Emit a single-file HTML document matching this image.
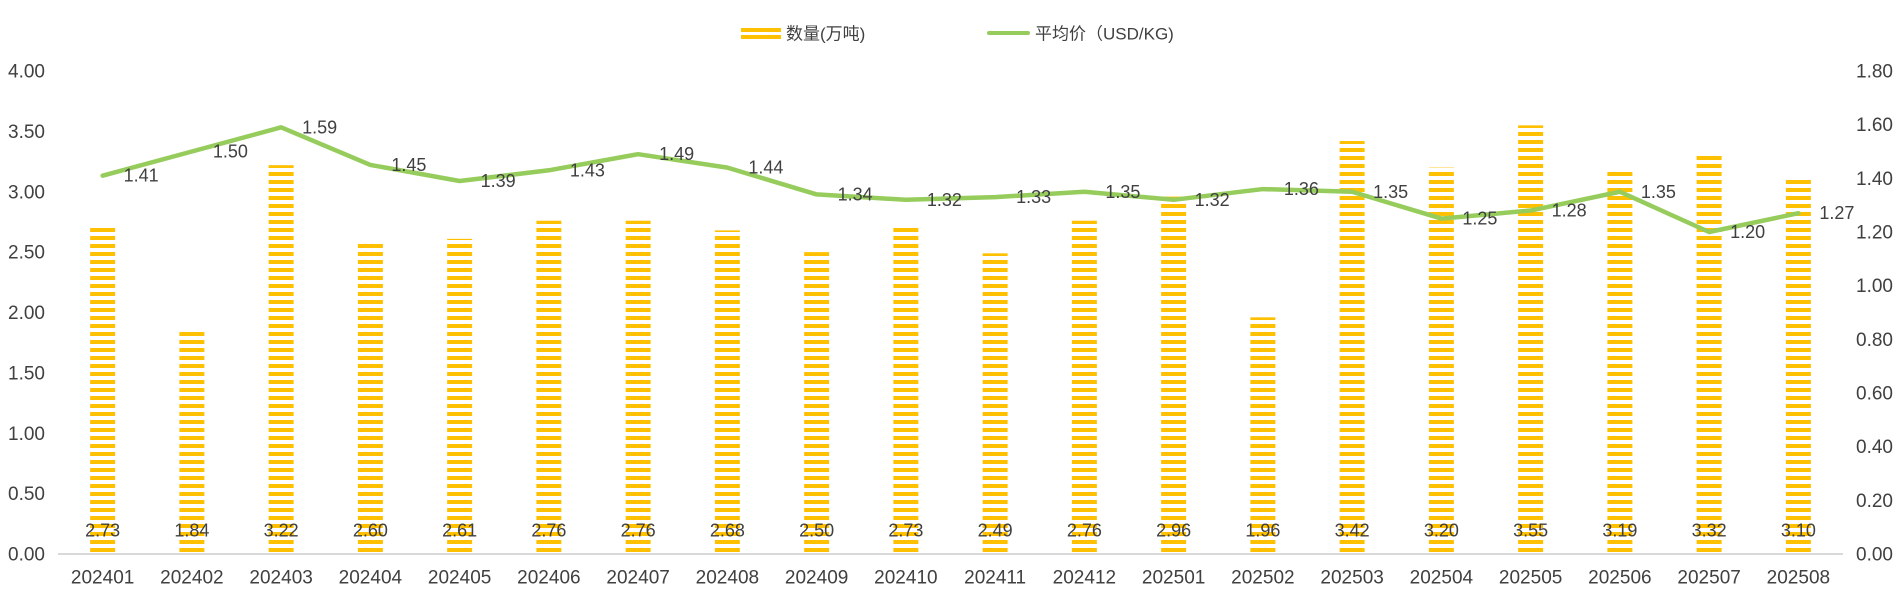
<!DOCTYPE html>
<html>
<head>
<meta charset="utf-8">
<style>
html,body{margin:0;padding:0;background:#fff;}
svg{display:block;}
text{font-family:"Liberation Sans","Noto Sans CJK SC",sans-serif;fill:#404040;}
</style>
</head>
<body>
<svg width="1902" height="608" viewBox="0 0 1902 608" xmlns="http://www.w3.org/2000/svg">
<defs>
<pattern id="stripe" patternUnits="userSpaceOnUse" x="0" y="0" width="8" height="8">
<rect x="0" y="4" width="8" height="4" fill="#FFC000"/>
</pattern>
</defs>

<!-- Legend -->
<rect x="741" y="28" width="40" height="4" fill="#FFC000"/>
<rect x="741" y="35" width="40" height="4" fill="#FFC000"/>
<text x="786" y="39.5" font-size="17">数量(万吨)</text>
<line x1="989" y1="33" x2="1028" y2="33" stroke="#96CC5C" stroke-width="4" stroke-linecap="round"/>
<text x="1035" y="39.5" font-size="17">平均价（USD/KG)</text>

<!-- Left axis labels -->
<g font-size="19" text-anchor="end">
<text x="45" y="560.5">0.00</text>
<text x="45" y="500.1">0.50</text>
<text x="45" y="439.75">1.00</text>
<text x="45" y="379.4">1.50</text>
<text x="45" y="319">2.00</text>
<text x="45" y="258.6">2.50</text>
<text x="45" y="198.25">3.00</text>
<text x="45" y="137.9">3.50</text>
<text x="45" y="77.5">4.00</text>
</g>

<!-- Right axis labels -->
<g font-size="19" text-anchor="start">
<text x="1856" y="560.5">0.00</text>
<text x="1856" y="506.8">0.20</text>
<text x="1856" y="453.2">0.40</text>
<text x="1856" y="399.5">0.60</text>
<text x="1856" y="345.8">0.80</text>
<text x="1856" y="292.2">1.00</text>
<text x="1856" y="238.5">1.20</text>
<text x="1856" y="184.8">1.40</text>
<text x="1856" y="131.2">1.60</text>
<text x="1856" y="77.5">1.80</text>
</g>

<!-- Bars -->
<g fill="url(#stripe)">
<rect x="90.125" y="224.35" width="25" height="328.65"/>
<rect x="179.375" y="331.82" width="25" height="221.18"/>
<rect x="268.625" y="165.18" width="25" height="387.82"/>
<rect x="357.875" y="240.05" width="25" height="312.95"/>
<rect x="447.125" y="238.84" width="25" height="314.16"/>
<rect x="536.375" y="220.73" width="25" height="332.27"/>
<rect x="625.625" y="220.73" width="25" height="332.27"/>
<rect x="714.875" y="230.39" width="25" height="322.61"/>
<rect x="804.125" y="252.13" width="25" height="300.87"/>
<rect x="893.375" y="224.35" width="25" height="328.65"/>
<rect x="982.625" y="253.33" width="25" height="299.67"/>
<rect x="1071.875" y="220.73" width="25" height="332.27"/>
<rect x="1161.125" y="196.58" width="25" height="356.42"/>
<rect x="1250.375" y="317.33" width="25" height="235.67"/>
<rect x="1339.625" y="141.03" width="25" height="411.97"/>
<rect x="1428.875" y="167.6" width="25" height="385.4"/>
<rect x="1518.125" y="125.34" width="25" height="427.66"/>
<rect x="1607.375" y="168.81" width="25" height="384.19"/>
<rect x="1696.625" y="153.11" width="25" height="399.89"/>
<rect x="1785.875" y="179.67" width="25" height="373.33"/>
</g>

<!-- Axis line -->
<line x1="58" y1="554" x2="1843" y2="554" stroke="#D9D9D9" stroke-width="2"/>

<!-- Bar value labels -->
<g font-size="18" text-anchor="middle">
<text x="102.625" y="536.5">2.73</text>
<text x="191.875" y="536.5">1.84</text>
<text x="281.125" y="536.5">3.22</text>
<text x="370.375" y="536.5">2.60</text>
<text x="459.625" y="536.5">2.61</text>
<text x="548.875" y="536.5">2.76</text>
<text x="638.125" y="536.5">2.76</text>
<text x="727.375" y="536.5">2.68</text>
<text x="816.625" y="536.5">2.50</text>
<text x="905.875" y="536.5">2.73</text>
<text x="995.125" y="536.5">2.49</text>
<text x="1084.375" y="536.5">2.76</text>
<text x="1173.625" y="536.5">2.96</text>
<text x="1262.875" y="536.5">1.96</text>
<text x="1352.125" y="536.5">3.42</text>
<text x="1441.375" y="536.5">3.20</text>
<text x="1530.625" y="536.5">3.55</text>
<text x="1619.875" y="536.5">3.19</text>
<text x="1709.125" y="536.5">3.32</text>
<text x="1798.375" y="536.5">3.10</text>
</g>

<!-- Line -->
<polyline fill="none" stroke="#96CC5C" stroke-width="4.5" stroke-linejoin="round" stroke-linecap="round"
points="102.625,175.65 191.875,151.5 281.125,127.35 370.375,164.92 459.625,181.02 548.875,170.28 638.125,154.18 727.375,167.6 816.625,194.43 905.875,199.8 995.125,197.12 1084.375,191.75 1173.625,199.8 1262.875,189.07 1352.125,191.75 1441.375,218.58 1530.625,210.53 1619.875,191.75 1709.125,232 1798.375,213.22"/>

<!-- Line labels -->
<g font-size="18" text-anchor="start">
<text x="123.6" y="181.65">1.41</text>
<text x="212.9" y="157.5">1.50</text>
<text x="302.1" y="133.35">1.59</text>
<text x="391.4" y="170.92">1.45</text>
<text x="480.6" y="187.02">1.39</text>
<text x="569.9" y="176.28">1.43</text>
<text x="659.1" y="160.18">1.49</text>
<text x="748.4" y="173.6">1.44</text>
<text x="837.6" y="200.43">1.34</text>
<text x="926.9" y="205.8">1.32</text>
<text x="1016.1" y="203.12">1.33</text>
<text x="1105.4" y="197.75">1.35</text>
<text x="1194.6" y="205.8">1.32</text>
<text x="1283.9" y="195.07">1.36</text>
<text x="1373.1" y="197.75">1.35</text>
<text x="1462.4" y="224.58">1.25</text>
<text x="1551.6" y="216.53">1.28</text>
<text x="1640.9" y="197.75">1.35</text>
<text x="1730.1" y="238">1.20</text>
<text x="1819.4" y="219.22">1.27</text>
</g>

<!-- X axis labels -->
<g font-size="19" text-anchor="middle">
<text x="102.625" y="583.5">202401</text>
<text x="191.875" y="583.5">202402</text>
<text x="281.125" y="583.5">202403</text>
<text x="370.375" y="583.5">202404</text>
<text x="459.625" y="583.5">202405</text>
<text x="548.875" y="583.5">202406</text>
<text x="638.125" y="583.5">202407</text>
<text x="727.375" y="583.5">202408</text>
<text x="816.625" y="583.5">202409</text>
<text x="905.875" y="583.5">202410</text>
<text x="995.125" y="583.5">202411</text>
<text x="1084.375" y="583.5">202412</text>
<text x="1173.625" y="583.5">202501</text>
<text x="1262.875" y="583.5">202502</text>
<text x="1352.125" y="583.5">202503</text>
<text x="1441.375" y="583.5">202504</text>
<text x="1530.625" y="583.5">202505</text>
<text x="1619.875" y="583.5">202506</text>
<text x="1709.125" y="583.5">202507</text>
<text x="1798.375" y="583.5">202508</text>
</g>
</svg>
</body>
</html>
